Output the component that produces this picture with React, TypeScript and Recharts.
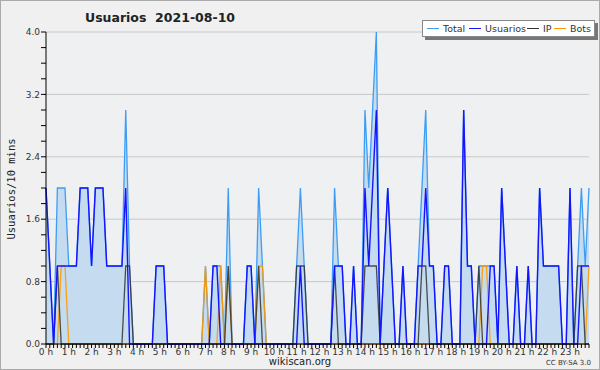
import {
    ComposedChart,
    Area,
    Line,
    XAxis,
    YAxis,
    CartesianGrid
} from 'recharts'

// one point every 10 minutes, 144 slots for the day
const total = [
    2, 1, 0, 2, 2, 2, 1, 1, 1, 2, 2, 2,
    1, 2, 2, 2, 1, 1, 1, 1, 1, 3, 1, 0,
    0, 0, 0, 0, 0, 1, 1, 1, 0, 0, 0, 0,
    0, 0, 0, 0, 0, 0, 1, 0, 1, 1, 1, 0,
    2, 0, 0, 0, 0, 1, 1, 0, 2, 1, 0, 0,
    0, 0, 0, 0, 0, 0, 1, 2, 1, 0, 0, 0,
    0, 0, 0, 0, 2, 1, 1, 0, 0, 1, 0, 0,
    3, 2, 3, 4, 0, 1, 2, 1, 0, 0, 1, 0,
    0, 0, 1, 2, 3, 1, 1, 0, 0, 1, 1, 0,
    0, 0, 3, 1, 1, 0, 1, 1, 1, 1, 1, 0,
    2, 1, 0, 0, 1, 0, 0, 1, 0, 0, 2, 1,
    1, 1, 1, 1, 0, 0, 2, 0, 1, 2, 1, 2
]

const usuarios = [
    2, 1, 0, 1, 1, 1, 1, 1, 1, 2, 2, 2,
    1, 2, 2, 2, 1, 1, 1, 1, 1, 2, 0, 0,
    0, 0, 0, 0, 0, 1, 1, 1, 0, 0, 0, 0,
    0, 0, 0, 0, 0, 0, 0, 0, 1, 1, 0, 0,
    0, 0, 0, 0, 0, 1, 1, 0, 0, 0, 0, 0,
    0, 0, 0, 0, 0, 0, 0, 1, 0, 0, 0, 0,
    0, 0, 0, 0, 1, 1, 1, 0, 0, 1, 0, 0,
    2, 1, 2, 3, 0, 1, 2, 1, 0, 0, 1, 0,
    0, 0, 1, 1, 2, 1, 1, 0, 0, 1, 1, 0,
    0, 0, 3, 1, 1, 0, 0, 0, 0, 1, 1, 0,
    2, 1, 0, 0, 1, 0, 0, 1, 0, 0, 2, 1,
    1, 1, 1, 1, 0, 0, 2, 0, 0, 1, 1, 1
]

const ip = [
    0, 0, 0, 1, 0, 0, 0, 0, 0, 0, 0, 0,
    0, 0, 0, 0, 0, 0, 0, 0, 0, 1, 1, 0,
    0, 0, 0, 0, 0, 0, 0, 0, 0, 0, 0, 0,
    0, 0, 0, 0, 0, 0, 0, 0, 0, 0, 0, 0,
    1, 0, 0, 0, 0, 0, 0, 0, 1, 0, 0, 0,
    0, 0, 0, 0, 0, 0, 1, 1, 1, 0, 0, 0,
    0, 0, 0, 0, 1, 0, 0, 0, 0, 0, 0, 0,
    1, 1, 1, 1, 0, 0, 0, 0, 0, 0, 0, 0,
    0, 0, 0, 1, 1, 0, 0, 0, 0, 0, 0, 0,
    0, 0, 0, 0, 0, 0, 1, 0, 0, 0, 0, 0,
    0, 0, 0, 0, 0, 0, 0, 0, 0, 0, 0, 0,
    0, 0, 0, 0, 0, 0, 0, 0, 1, 1, 0, 0
]

const bots = [
    0, 0, 0, 0, 1, 1, 0, 0, 0, 0, 0, 0,
    0, 0, 0, 0, 0, 0, 0, 0, 0, 0, 0, 0,
    0, 0, 0, 0, 0, 0, 0, 0, 0, 0, 0, 0,
    0, 0, 0, 0, 0, 0, 1, 0, 0, 0, 1, 0,
    1, 0, 0, 0, 0, 0, 0, 0, 1, 1, 0, 0,
    0, 0, 0, 0, 0, 0, 0, 0, 0, 0, 0, 0,
    0, 0, 0, 0, 0, 0, 0, 0, 0, 0, 0, 0,
    0, 0, 0, 0, 0, 0, 0, 0, 0, 0, 0, 0,
    0, 0, 0, 0, 0, 0, 0, 0, 0, 0, 0, 0,
    0, 0, 0, 0, 0, 0, 0, 1, 1, 0, 0, 0,
    0, 0, 0, 0, 0, 0, 0, 0, 0, 0, 0, 0,
    0, 0, 0, 0, 0, 0, 0, 0, 0, 0, 0, 1
]

const hourLabels = [
    '0 h', '1 h', '2 h', '3 h', '4 h', '5 h', '6 h', '7 h',
    '8 h', '9 h', '10 h', '11 h', '12 h', '13 h', '14 h', '15 h',
    '16 h', '17 h', '18 h', '19 h', '20 h', '21 h', '22 h', '23 h'
]

const yTicks = [0, 0.2, 0.4, 0.6, 0.8, 1, 1.2, 1.4, 1.6, 1.8, 2, 2.2, 2.4, 2.6, 2.8, 3, 3.2, 3.4, 3.6, 3.8, 4]
const yLabelled = [0, 0.8, 1.6, 2.4, 3.2, 4]

const legendItems = [
    { name: 'Total', color: '#3d9df5' },
    { name: 'Usuarios', color: '#1414ff' },
    { name: 'IP', color: '#333333' },
    { name: 'Bots', color: '#ff9900' }
]
// left edge of each legend entry inside the box
const legendLeft = [4, 46, 104, 131]

const slots = total.map((_, i) => i)
const data = slots.map((slot) => ({
    slot,
    total: total[slot],
    usuarios: usuarios[slot],
    ip: ip[slot],
    bots: bots[slot]
}))

const font = "'DejaVu Sans', sans-serif"

const formatY = (v: number) =>
    yLabelled.some((m) => Math.abs(m - v) < 1e-6) ? v.toFixed(1) : ''

const formatX = (v: number) => (v % 6 === 0 ? hourLabels[v / 6] : '')

export default function App() {
    return (
        <div
            style={{
                position: 'absolute',
                left: 0,
                top: 0,
                width: 600,
                height: 370,
                boxSizing: 'border-box',
                border: '1px solid #aaaaaa',
                background: '#f0f0f0',
                fontFamily: font,
                color: '#222'
            }}
        >
            <div style={{ position: 'absolute', left: 84, top: 9, fontSize: 12.5, fontWeight: 'bold', whiteSpace: 'pre' }}>
                {'Usuarios  2021-08-10'}
            </div>

            <div
                style={{
                    position: 'absolute',
                    left: 10,
                    top: 188,
                    fontFamily: "'DejaVu Sans Mono', monospace",
                    fontSize: 10.5,
                    whiteSpace: 'nowrap',
                    transform: 'translate(-50%, -50%) rotate(-90deg)'
                }}
            >
                Usuarios/10 mins
            </div>

            <ComposedChart
                width={598}
                height={368}
                data={data}
                margin={{ top: 31, right: 10, bottom: 5, left: 0 }}
            >
                <CartesianGrid
                    vertical={false}
                    horizontalValues={[0.8, 1.6, 2.4, 3.2, 4]}
                    stroke="#c8c8c8"
                    fill="#eef0f2"
                />
                <XAxis
                    dataKey="slot"
                    type="number"
                    domain={[0, 143]}
                    ticks={slots}
                    interval={0}
                    tickFormatter={formatX}
                    tickSize={4}
                    tickMargin={1}
                    height={20}
                    stroke="#000"
                    tick={{ fontSize: 9, fill: '#333', fontFamily: font }}
                />
                <YAxis
                    type="number"
                    domain={[0, 4]}
                    ticks={yTicks}
                    interval={0}
                    tickFormatter={formatY}
                    tickSize={5}
                    tickMargin={1}
                    width={45}
                    stroke="#000"
                    tick={{ fontSize: 9, fill: '#333', fontFamily: font }}
                />
                <Area
                    type="linear"
                    dataKey="total"
                    stroke="#3d9df5"
                    strokeWidth={1.3}
                    fill="#c5dcf0"
                    fillOpacity={1}
                    isAnimationActive={false}
                    dot={false}
                />
                <Line
                    type="linear"
                    dataKey="bots"
                    stroke="#ff9900"
                    strokeWidth={1.3}
                    strokeOpacity={0.9}
                    dot={false}
                    isAnimationActive={false}
                />
                <Line
                    type="linear"
                    dataKey="ip"
                    stroke="#333333"
                    strokeWidth={1.3}
                    strokeOpacity={0.85}
                    dot={false}
                    isAnimationActive={false}
                />
                <Line
                    type="linear"
                    dataKey="usuarios"
                    stroke="#1414ff"
                    strokeWidth={1.4}
                    dot={false}
                    isAnimationActive={false}
                />
            </ComposedChart>

            <div
                style={{
                    position: 'absolute',
                    left: 421,
                    top: 19,
                    width: 171,
                    height: 15,
                    background: '#fff',
                    border: '1px solid #888',
                    boxShadow: '3px 3px 0 #777',
                    fontSize: 9.5,
                    color: '#333',
                    whiteSpace: 'nowrap'
                }}
            >
                {legendItems.map((item, i) => (
                    <div
                        key={item.name}
                        style={{ position: 'absolute', left: legendLeft[i], top: 0, height: 15, display: 'flex', alignItems: 'center' }}
                    >
                        <span style={{ display: 'inline-block', width: 12, borderTop: `1px solid ${item.color}`, marginRight: 4 }} />
                        <span>{item.name}</span>
                    </div>
                ))}
            </div>

            <div style={{ position: 'absolute', left: 0, width: 598, top: 355, textAlign: 'center', fontSize: 10 }}>
                wikiscan.org
            </div>
            <div style={{ position: 'absolute', right: 8, top: 358, fontSize: 7, color: '#333' }}>
                CC BY-SA 3.0
            </div>
        </div>
    )
}
